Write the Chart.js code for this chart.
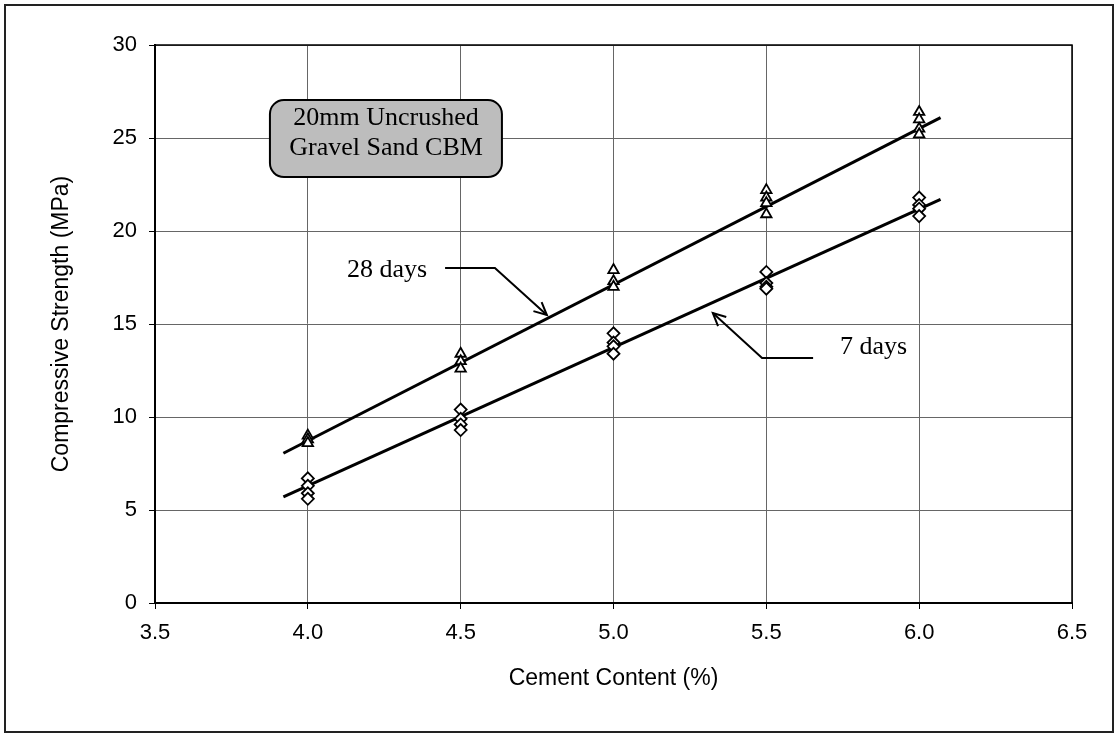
<!DOCTYPE html>
<html>
<head>
<meta charset="utf-8">
<script src="https://cdn.jsdelivr.net/npm/chart.js@4"></script>
<style>
  body { margin: 0; background: #fff; }
  #wrap { width: 1116px; height: 735px; }
</style>
</head>
<body>
<div id="wrap"><canvas id="myChart" width="1116" height="735"></canvas></div>
<script>
// cement content (%) and the strengths read at each of them (MPa)
var cement = [4.0, 4.5, 5.0, 5.5, 6.0];
var days28 = [
  [9.0, 8.8, 8.6],
  [13.4, 13.0, 12.6],
  [17.9, 17.3, 17.0],
  [22.2, 21.8, 21.5, 20.9],
  [26.4, 26.0, 25.5, 25.2]
];
var days7 = [
  [6.7, 6.3, 5.9, 5.6],
  [10.4, 9.9, 9.6, 9.3],
  [14.5, 14.0, 13.8, 13.4],
  [17.8, 17.2, 17.0, 16.9],
  [21.8, 21.4, 21.2, 20.8]
];
// trend line ends
var fitX = [3.92, 6.07];
var fit28 = [8.05, 26.1];
var fit7 = [5.7, 21.7];
var xTicks = [3.5, 4.0, 4.5, 5.0, 5.5, 6.0, 6.5];
var yTicks = [0, 5, 10, 15, 20, 25, 30];

function points(groups) {
  var out = [];
  groups.forEach(function (vals, i) {
    vals.forEach(function (v) { out.push({ x: cement[i], y: v }); });
  });
  return out;
}
function line(ys) {
  return fitX.map(function (x, i) { return { x: x, y: ys[i] }; });
}

var sans = "'Liberation Sans', Arial, sans-serif";
var serif = "'Liberation Serif', 'Times New Roman', serif";

var extras = {
  id: 'extras',
  beforeDraw: function (chart) {
    var c = chart.ctx;
    c.save();
    c.fillStyle = '#fff';
    c.fillRect(0, 0, chart.width, chart.height);
    c.strokeStyle = '#222';
    c.lineWidth = 2;
    c.strokeRect(5, 5, 1108, 727);
    c.restore();
  },
  afterDraw: function (chart) {
    var c = chart.ctx;
    var xs = chart.scales.x, ys = chart.scales.y;
    var px = function (v) { return xs.getPixelForValue(v); };
    var py = function (v) { return ys.getPixelForValue(v); };
    var a = chart.chartArea;
    c.save();
    c.strokeStyle = '#000';
    c.lineWidth = 1.5;
    c.strokeRect(a.left, a.top, a.right - a.left, a.bottom - a.top);

    // label box
    var bx = px(3.876), by = py(27.04), bw = px(4.635) - bx, bh = py(22.9) - by;
    c.beginPath();
    c.roundRect(bx, by, bw, bh, 14);
    c.fillStyle = '#bdbdbd';
    c.fill();
    c.lineWidth = 2;
    c.stroke();
    c.fillStyle = '#000';
    c.font = '26px ' + serif;
    c.textAlign = 'center';
    c.textBaseline = 'middle';
    c.fillText('20mm Uncrushed', px(4.256), py(26.08));
    c.fillText('Gravel Sand CBM', px(4.256), py(24.46));

    // callouts
    c.textAlign = 'left';
    c.fillText('28 days', px(4.128), py(17.9));
    c.fillText('7 days', px(5.741), py(13.76));
    arrow(c, [[px(4.449), py(18.01)], [px(4.612), py(18.01)], [px(4.782), py(15.48)]]);
    arrow(c, [[px(5.653), py(13.17)], [px(5.486), py(13.17)], [px(5.325), py(15.59)]]);
    c.restore();
  }
};

function arrow(c, pts) {
  c.strokeStyle = '#000';
  c.lineWidth = 2;
  c.beginPath();
  c.moveTo(pts[0][0], pts[0][1]);
  for (var i = 1; i < pts.length; i++) c.lineTo(pts[i][0], pts[i][1]);
  c.stroke();
  var p = pts[pts.length - 1], q = pts[pts.length - 2];
  var ang = Math.atan2(p[1] - q[1], p[0] - q[0]);
  c.beginPath();
  c.moveTo(p[0] - 14 * Math.cos(ang - 0.45), p[1] - 14 * Math.sin(ang - 0.45));
  c.lineTo(p[0], p[1]);
  c.lineTo(p[0] - 14 * Math.cos(ang + 0.45), p[1] - 14 * Math.sin(ang + 0.45));
  c.stroke();
}

var ctx = document.getElementById('myChart').getContext('2d');
var myChart = new Chart(ctx, {
  type: 'scatter',
  data: {
    datasets: [{
      label: '28 days',
      data: points(days28),
      pointStyle: 'triangle',
      pointRadius: 6,
      borderColor: '#000',
      backgroundColor: '#fff',
      borderWidth: 1.8
    }, {
      label: '7 days',
      data: points(days7),
      pointStyle: 'rectRot',
      pointRadius: 6,
      borderColor: '#000',
      backgroundColor: '#fff',
      borderWidth: 1.8
    }, {
      label: '28 days fit',
      data: line(fit28),
      showLine: true,
      pointRadius: 0,
      borderColor: '#000',
      borderWidth: 3
    }, {
      label: '7 days fit',
      data: line(fit7),
      showLine: true,
      pointRadius: 0,
      borderColor: '#000',
      borderWidth: 3
    }]
  },
  options: {
    responsive: false,
    animation: false,
    layout: { padding: { top: 45, right: 44, left: 0, bottom: 0 } },
    plugins: { legend: { display: false }, tooltip: { enabled: false } },
    scales: {
      x: {
        type: 'linear',
        min: 3.5, max: 6.5,
        afterFit: function (s) { s.height = 132; },
        afterBuildTicks: function (s) { s.ticks = xTicks.map(function (v) { return { value: v }; }); },
        ticks: {
          color: '#000', padding: 11,
          font: { family: sans, size: 22 },
          callback: function (v) { return Number(v).toFixed(1); }
        },
        grid: { color: '#666', lineWidth: 1, tickColor: '#000', tickLength: 6 },
        border: { color: '#000', width: 2 },
        title: {
          display: true, text: 'Cement Content (%)', color: '#000',
          font: { family: sans, size: 23 }, padding: { top: 0, bottom: 43 }
        }
      },
      y: {
        min: 0, max: 30,
        afterFit: function (s) { s.width = 155; },
        afterBuildTicks: function (s) { s.ticks = yTicks.map(function (v) { return { value: v }; }); },
        ticks: { color: '#000', padding: 12, font: { family: sans, size: 22 } },
        grid: { color: '#666', lineWidth: 1, tickColor: '#000', tickLength: 6 },
        border: { color: '#000', width: 2 },
        title: {
          display: true, text: 'Compressive Strength (MPa)', color: '#000',
          font: { family: sans, size: 23 }, padding: { top: 48, bottom: 0 }
        }
      }
    }
  },
  plugins: [extras]
});
</script>
</body>
</html>
